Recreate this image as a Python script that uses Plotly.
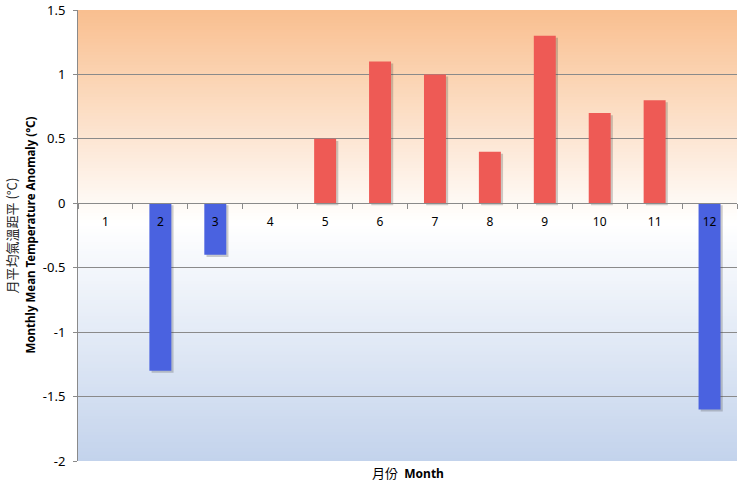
"""
Monthly mean temperature anomaly bar chart (Plotly version).
Writes out.html
"""

import plotly.graph_objects as go

# ---- data ----
months = ["1", "2", "3", "4", "5", "6", "7", "8", "9", "10", "11", "12"]
anomaly = [0.0, -1.3, -0.4, 0.0, 0.5, 1.1, 1.0, 0.4, 1.3, 0.7, 0.8, -1.6]

y_tickvals = [1.5, 1, 0.5, 0, -0.5, -1, -1.5, -2]
y_ticktext = ["1.5", "1", "0.5", "0", "-0.5", "-1", "-1.5", "-2"]

Y_MIN, Y_MAX = -2, 1.5
RED = "#EE5A55"
BLUE = "#4A62E0"
GRID = "#8A8A8A"
FONT = "Noto Sans, DejaVu Sans, Arial, sans-serif"


def mix(c1, c2, t):
    return "rgb(%d,%d,%d)" % tuple(round(a + (b - a) * t) for a, b in zip(c1, c2))


def gradient_strips(n=140):
    """Background: orange at top -> white just below zero -> pale blue at bottom.
    Each strip runs up to the top so later strips overdraw earlier ones (no seams)."""
    top, mid, bot = (249, 191, 143), (255, 255, 255), (195, 211, 236)
    mid_y = -0.15
    shapes = []
    step = (Y_MAX - Y_MIN) / n
    for i in range(n):
        y0 = Y_MIN + i * step
        yc = y0 + step / 2
        if yc >= mid_y:
            col = mix(mid, top, (yc - mid_y) / (Y_MAX - mid_y))
        else:
            col = mix(mid, bot, (mid_y - yc) / (mid_y - Y_MIN))
        shapes.append(dict(
            type="rect", xref="paper", yref="y", x0=0, x1=1,
            y0=y0, y1=Y_MAX, fillcolor=col,
            line=dict(width=0), layer="below",
        ))
    return shapes


colors = [RED if v >= 0 else BLUE for v in anomaly]

fig = go.Figure()

# soft drop shadow behind each bar
fig.add_trace(go.Bar(
    x=months, y=anomaly, base=[-0.016] * len(months),
    width=0.4, offset=-0.16,
    marker=dict(color="rgba(60,60,60,0.25)", line=dict(width=0)),
    hoverinfo="skip", showlegend=False,
))

fig.add_trace(go.Bar(
    x=months, y=anomaly,
    width=0.4, offset=-0.2,
    marker=dict(color=colors, line=dict(width=0)),
    showlegend=False,
))

fig.update_layout(
    width=742, height=483,
    margin=dict(l=78, r=5, t=10, b=22, autoexpand=False),
    barmode="overlay",
    paper_bgcolor="white",
    plot_bgcolor="white",
    font=dict(family=FONT, size=12, color="black"),
    shapes=gradient_strips(),
    annotations=[
        dict(
            text="<span style='font-family:Noto Sans CJK TC;font-size:13px'>月份</span>  <b>Month</b>",
            xref="paper", yref="paper", x=0.5, y=0, yanchor="top", yshift=0,
            showarrow=False, font=dict(size=12, color="black"),
        ),
        dict(
            text="月平均氣溫距平 (°C)", textangle=-90,
            xref="paper", yref="paper", x=0, xshift=-67, y=0.5,
            xanchor="center", yanchor="middle",
            showarrow=False, font=dict(family="Noto Sans CJK TC", size=13, color="#222"),
        ),
        dict(
            text="<b>Monthly Mean Temperature Anomaly (°C)</b>", textangle=-90,
            xref="paper", yref="paper", x=0, xshift=-48, y=0.5,
            xanchor="center", yanchor="middle",
            showarrow=False, font=dict(size=11.5, color="black"),
        ),
    ],
)

fig.update_xaxes(
    type="category",
    range=[-0.5, 11.5],
    anchor="free", position=(0 - Y_MIN) / (Y_MAX - Y_MIN),
    showline=True, linecolor=GRID, linewidth=1,
    ticks="outside", tickson="boundaries", ticklen=5, tickcolor=GRID,
    ticklabelstandoff=7,
    showgrid=False,
    automargin=False,
    tickfont=dict(size=12, color="black"),
)

fig.update_yaxes(
    range=[Y_MIN, Y_MAX],
    tickvals=y_tickvals, ticktext=y_ticktext,
    showgrid=True, gridcolor=GRID, gridwidth=1,
    zeroline=False,
    showline=True, linecolor=GRID, linewidth=1,
    ticks="outside", ticklen=4, tickcolor=GRID,
    ticklabelstandoff=5,
    automargin=False,
    tickfont=dict(size=13, color="black"),
)

# drop the browser's default 8px body margin so the chart sits at the window's corner
fig.write_html(
    "out.html",
    config={"displayModeBar": False},
    post_script="document.body.style.margin='0';",
)
